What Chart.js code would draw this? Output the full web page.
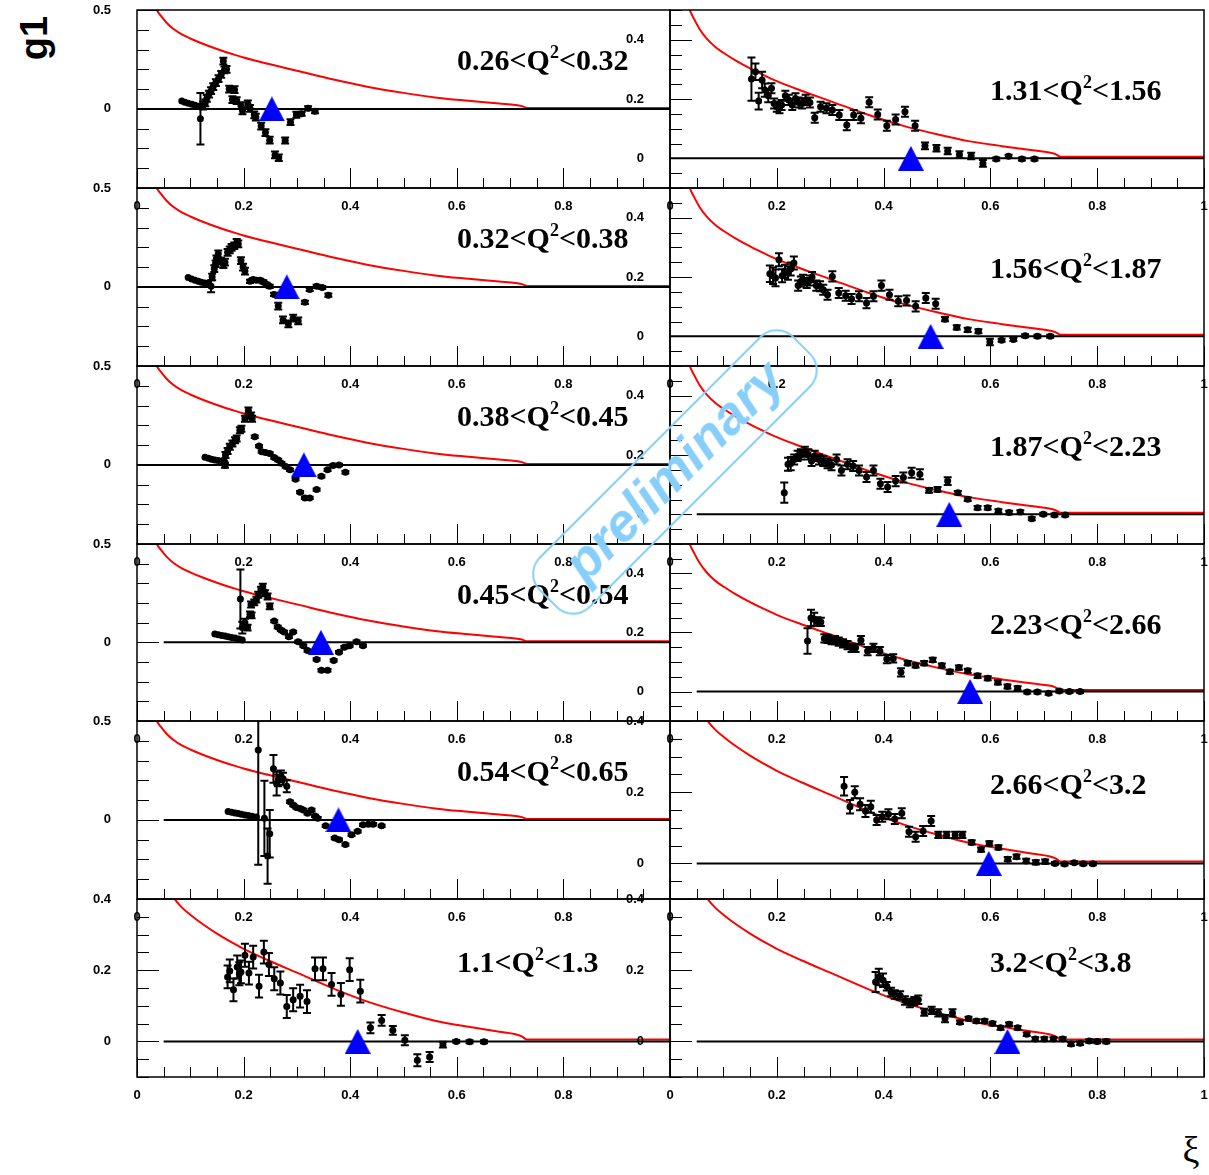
<!DOCTYPE html>
<html>
<head>
<meta charset="utf-8">
<script src="https://cdn.jsdelivr.net/npm/chart.js@4.4.0/dist/chart.umd.min.js"></script>
<style>
  body { margin: 0; background: #fff; width: 1209px; height: 1175px; position: relative; overflow: hidden; }
  canvas.panel { position: absolute; }
  .q2 { position: absolute; font: bold 30px "Liberation Serif", "Times New Roman", serif; line-height: 30px; white-space: nowrap; color: #000; }
  .q2 sup { font-size: 18px; vertical-align: baseline; position: relative; top: -12px; }
  #ytitle { position: absolute; left: 34px; top: 38px; transform: translate(-50%, -50%) rotate(-90deg);
            font: bold 38px "Liberation Sans", Arial, sans-serif; line-height: 38px; }
  #xtitle { position: absolute; left: 1191px; top: 1150px; transform: translate(-50%, -50%);
            font: 38px "Liberation Serif", "DejaVu Serif", serif; line-height: 40px; }
  #prelim { position: absolute; left: 675px; top: 472px; width: 360px; height: 72px; box-sizing: border-box;
            transform: translate(-50%, -50%) rotate(-45deg); border: 2px solid #87cefa; border-radius: 24px;
            color: #87cefa; font: italic bold 53px "Liberation Sans", Arial, sans-serif; line-height: 64px; text-align: center; }
</style>
</head>
<body>
<div id="plots"></div>
<div id="ytitle">g1</div>
<div id="xtitle">ξ</div>
<div id="prelim">preliminary</div>
<script>
// tick labels (the left column's "1" is hidden under the right pads)
const xTickValsLeft = [0, 0.2, 0.4, 0.6, 0.8];
const xTickValsRight = [0, 0.2, 0.4, 0.6, 0.8, 1];
const yTicksWide = [0, 0.5];
const yTicksNarrow = [0, 0.2, 0.4];

// Q2 bins, one per panel (left column top to bottom, then right column)
const q2Low  = ['0.26', '0.32', '0.38', '0.45', '0.54', '1.1', '1.31', '1.56', '1.87', '2.23', '2.66', '3.2'];
const q2High = ['0.32', '0.38', '0.45', '0.54', '0.65', '1.3', '1.56', '1.87', '2.23', '2.66', '3.2', '3.8'];
const triangleXi = [0.253, 0.281, 0.313, 0.345, 0.378, 0.414, 0.451, 0.488, 0.523, 0.562, 0.597, 0.632];
const zeroLineFrom = [0, 0, 0, 0.05, 0.05, 0.05, 0, 0, 0.05, 0.05, 0.05, 0.05];

// red curve (same in every panel); its tail sits just above the zero line
const curveXi = [0.030, 0.037, 0.045, 0.055, 0.068, 0.085, 0.100, 0.121, 0.150, 0.184, 0.200, 0.246, 0.300, 0.371, 0.434, 0.500, 0.559, 0.622, 0.680, 0.710, 0.722, 0.732, 1.000];
const curveG1 = [0.545, 0.500, 0.470, 0.437, 0.405, 0.375, 0.356, 0.332, 0.303, 0.273, 0.260, 0.228, 0.193, 0.147, 0.111, 0.081, 0.058, 0.041, 0.027, 0.020, 0.014, 0.005, 0.005];

// 0.26<Q2<0.32
const xiP1  = [0.084,0.090,0.096,0.103,0.109,0.115,0.119,0.124,0.128,0.131,0.135,0.139,0.143,0.148,0.153,0.158,0.162,0.164,0.168,0.173,0.179,0.183,0.187,0.195,0.198,0.208,0.212,0.220,0.223,0.233,0.241,0.249,0.259,0.266,0.278,0.288,0.299,0.309,0.321,0.334];
const g1P1  = [0.040,0.033,0.028,0.023,0.018,0.013,-0.050,0.017,0.030,0.053,0.075,0.092,0.113,0.133,0.153,0.175,0.242,0.197,0.200,0.100,0.047,0.097,0.042,0.017,-0.010,0.025,0.003,-0.030,-0.042,-0.087,-0.120,-0.158,-0.233,-0.247,-0.160,-0.067,-0.030,-0.025,0.003,-0.012];
const errP1 = [0,0,0,0,0,0,0.13,0.02,0.017,0.017,0.017,0.017,0.017,0.017,0.017,0.017,0.017,0.017,0.017,0.017,0.017,0.017,0.017,0.017,0.017,0.017,0.017,0.017,0.017,0.017,0.017,0.017,0.017,0.017,0.015,0.015,0.015,0.01,0.01,0.01];

// 0.32<Q2<0.38
const xiP2  = [0.096,0.1025,0.109,0.115,0.121,0.1275,0.134,0.139,0.141,0.145,0.1475,0.149,0.1525,0.1575,0.162,0.165,0.17,0.174,0.1775,0.1825,0.187,0.19,0.195,0.199,0.2025,0.212,0.218,0.224,0.231,0.237,0.243,0.249,0.257,0.265,0.274,0.284,0.293,0.3025,0.315,0.324,0.337,0.3475,0.359];
const g1P2  = [0.047,0.040,0.033,0.028,0.023,0.020,0.017,0.003,0.050,0.092,0.117,0.142,0.167,0.130,0.113,0.125,0.175,0.187,0.200,0.208,0.225,0.217,0.133,0.100,0.080,0.028,0.037,0.033,0.033,0.025,0.013,0.003,-0.038,-0.097,-0.167,-0.187,-0.158,-0.172,-0.078,-0.013,0.003,-0.003,-0.042];
const errP2 = [0,0,0,0,0,0,0,0.03,0.017,0.017,0.017,0.017,0.017,0.017,0.017,0.017,0.017,0.017,0.017,0.017,0.017,0.017,0.017,0.017,0.017,0.008,0.008,0.008,0.008,0.008,0.008,0.008,0.008,0.017,0.017,0.017,0.017,0.017,0.008,0.008,0.008,0.008,0.008];

// 0.38<Q2<0.45
const xiP3  = [0.1275,0.134,0.14,0.146,0.1525,0.16,0.165,0.165,0.166,0.17,0.174,0.179,0.184,0.187,0.193,0.196,0.2025,0.209,0.214,0.216,0.221,0.229,0.234,0.241,0.249,0.2575,0.265,0.271,0.279,0.287,0.2975,0.306,0.315,0.324,0.337,0.346,0.3575,0.368,0.379,0.391];
const g1P3  = [0.038,0.033,0.028,0.025,0.022,0.020,0.013,-0.003,0.050,0.070,0.092,0.108,0.125,0.133,0.175,0.183,0.233,0.275,0.250,0.233,0.142,0.095,0.067,0.063,0.058,0.037,0.025,0.008,-0.008,-0.025,-0.072,-0.138,-0.167,-0.167,-0.125,-0.058,-0.025,-0.003,0.000,-0.037];
const errP3 = [0,0,0,0,0,0,0,0.012,0.015,0.015,0.015,0.015,0.015,0.015,0.015,0.015,0.015,0.015,0.015,0.015,0.006,0.006,0.006,0.006,0.006,0.006,0.006,0.006,0.006,0.006,0.006,0.006,0.006,0.006,0.006,0.006,0.006,0.006,0.006,0.006];

// 0.45<Q2<0.54
const xiP4  = [0.146,0.1525,0.159,0.165,0.171,0.1775,0.184,0.191,0.1975,0.194,0.1975,0.2025,0.2075,0.212,0.215,0.214,0.22,0.224,0.2275,0.2325,0.236,0.24,0.245,0.249,0.2575,0.264,0.27,0.276,0.285,0.293,0.3025,0.312,0.32,0.337,0.346,0.3575,0.369,0.379,0.389,0.399,0.412,0.424];
const g1P4  = [0.042,0.038,0.035,0.032,0.028,0.025,0.022,0.017,0.012,0.220,0.075,0.100,0.075,0.142,0.137,0.192,0.203,0.217,0.242,0.267,0.283,0.250,0.233,0.183,0.108,0.078,0.063,0.053,0.028,0.053,0.003,-0.017,-0.042,-0.087,-0.142,-0.142,-0.092,-0.050,-0.025,-0.017,0.003,-0.017];
const errP4 = [0,0,0,0,0,0,0,0,0,0.15,0.03,0.02,0.015,0.015,0.015,0.015,0.015,0.015,0.015,0.015,0.015,0.015,0.015,0.015,0.006,0.006,0.006,0.006,0.006,0.006,0.006,0.006,0.006,0.006,0.006,0.006,0.006,0.006,0.006,0.006,0.006,0.006];

// 0.54<Q2<0.65
const xiP5  = [0.171,0.1775,0.184,0.19,0.196,0.2025,0.209,0.216,0.224,0.2275,0.239,0.245,0.249,0.256,0.262,0.265,0.27,0.274,0.281,0.287,0.293,0.299,0.306,0.312,0.32,0.3275,0.334,0.339,0.354,0.371,0.379,0.391,0.4025,0.414,0.424,0.434,0.443,0.459];
const g1P5  = [0.042,0.038,0.035,0.032,0.028,0.025,0.022,0.018,0.015,0.353,0.008,-0.183,-0.070,0.258,0.183,0.200,0.220,0.208,0.170,0.092,0.075,0.063,0.058,0.050,0.033,0.050,0.020,0.008,-0.030,-0.092,-0.100,-0.125,-0.075,-0.058,-0.025,-0.022,-0.022,-0.030];
const errP5 = [0,0,0,0,0,0,0,0,0,0.58,0.19,0.14,0.12,0.07,0.06,0.03,0.03,0.03,0.03,0.006,0.006,0.006,0.006,0.006,0.006,0.006,0.006,0.006,0.006,0.006,0.006,0.006,0.006,0.006,0.006,0.006,0.006,0.006];

// 1.1<Q2<1.3
const xiP6  = [0.17,0.174,0.181,0.188,0.192,0.195,0.2025,0.21,0.218,0.229,0.238,0.2475,0.2575,0.269,0.281,0.293,0.306,0.319,0.334,0.349,0.365,0.3825,0.399,0.419,0.438,0.459,0.48,0.5025,0.526,0.549,0.574,0.599,0.624,0.651];
const g1P6  = [0.181,0.198,0.145,0.209,0.19,0.195,0.242,0.192,0.237,0.155,0.251,0.216,0.176,0.164,0.098,0.117,0.127,0.112,0.204,0.204,0.16,0.132,0.2015,0.141,0.038,0.059,0.031,0.003,-0.053,-0.044,-0.009,0,-0.001,-0.001];
const errP6 = [0.032,0.032,0.032,0.032,0.032,0.032,0.032,0.032,0.032,0.032,0.032,0.032,0.032,0.032,0.032,0.032,0.032,0.032,0.032,0.032,0.032,0.032,0.032,0.032,0.015,0.015,0.012,0.014,0.017,0.014,0.008,0.004,0.004,0.004];

// 1.31<Q2<1.56
const xiP7  = [0.1525,0.16,0.166,0.1725,0.1775,0.184,0.19,0.195,0.2,0.205,0.209,0.216,0.2225,0.229,0.235,0.241,0.2475,0.254,0.262,0.271,0.282,0.293,0.304,0.317,0.331,0.344,0.3575,0.373,0.389,0.406,0.4225,0.44,0.459,0.4775,0.499,0.52,0.542,0.564,0.586,0.611,0.634,0.659,0.6825];
const g1P7  = [0.267,0.292,0.193,0.264,0.23,0.211,0.236,0.185,0.174,0.169,0.18,0.211,0.197,0.18,0.202,0.188,0.185,0.197,0.188,0.137,0.174,0.169,0.163,0.146,0.112,0.146,0.135,0.189,0.148,0.11,0.131,0.157,0.11,0.042,0.034,0.025,0.013,0.008,-0.017,-0.002,0.007,-0.002,-0.002];
const errP7 = [0.073,0.028,0.028,0.028,0.022,0.022,0.017,0.017,0.017,0.017,0.017,0.017,0.017,0.017,0.017,0.017,0.017,0.017,0.017,0.017,0.017,0.017,0.017,0.017,0.017,0.017,0.017,0.017,0.017,0.017,0.017,0.017,0.017,0.011,0.011,0.011,0.011,0.011,0.011,0.005,0.005,0.005,0.005];

// 1.56<Q2<1.87
const xiP8  = [0.187,0.193,0.1975,0.204,0.21,0.215,0.221,0.226,0.232,0.24,0.245,0.249,0.256,0.262,0.266,0.274,0.281,0.287,0.295,0.304,0.316,0.329,0.34,0.354,0.368,0.381,0.396,0.411,0.4275,0.443,0.46,0.479,0.4975,0.515,0.537,0.5575,0.5775,0.599,0.621,0.643,0.665,0.688,0.712];
const g1P8  = [0.211,0.204,0.197,0.258,0.204,0.219,0.213,0.227,0.247,0.171,0.185,0.191,0.18,0.188,0.2,0.171,0.169,0.157,0.14,0.202,0.146,0.137,0.126,0.135,0.112,0.135,0.171,0.14,0.118,0.121,0.101,0.129,0.11,0.058,0.03,0.022,0.017,-0.019,-0.013,-0.011,0.002,0,0];
const errP8 = [0.028,0.028,0.028,0.022,0.022,0.022,0.022,0.022,0.022,0.017,0.017,0.017,0.017,0.017,0.017,0.017,0.017,0.017,0.017,0.017,0.017,0.017,0.017,0.017,0.017,0.017,0.017,0.017,0.017,0.017,0.017,0.017,0.017,0.007,0.007,0.007,0.007,0.011,0.005,0.005,0.005,0.005,0.005];

// 1.87<Q2<2.23
const xiP9  = [0.214,0.221,0.226,0.2325,0.239,0.245,0.2525,0.259,0.265,0.271,0.279,0.287,0.295,0.3025,0.312,0.321,0.3325,0.343,0.354,0.368,0.381,0.394,0.4075,0.4225,0.437,0.4525,0.468,0.485,0.501,0.52,0.539,0.5575,0.576,0.595,0.615,0.635,0.656,0.6775,0.699,0.72,0.74];
const g1P9  = [0.073,0.169,0.171,0.185,0.197,0.202,0.211,0.202,0.18,0.197,0.185,0.18,0.172,0.166,0.185,0.148,0.169,0.163,0.148,0.126,0.148,0.103,0.092,0.112,0.124,0.14,0.135,0.081,0.084,0.112,0.073,0.051,0.022,0.022,0.011,0.006,0.008,-0.015,0,-0.002,-0.002];
const errP9 = [0.034,0.022,0.022,0.017,0.017,0.017,0.017,0.017,0.017,0.017,0.017,0.017,0.017,0.017,0.017,0.017,0.017,0.017,0.017,0.017,0.017,0.017,0.017,0.017,0.017,0.017,0.017,0.008,0.008,0.013,0.006,0.006,0.006,0.006,0.006,0.006,0.006,0.005,0.005,0.005,0.005];

// 2.23<Q2<2.66
const xiP10  = [0.2575,0.264,0.27,0.276,0.2825,0.289,0.295,0.3025,0.309,0.316,0.324,0.3325,0.34,0.3475,0.3575,0.37,0.381,0.393,0.406,0.418,0.4325,0.445,0.46,0.476,0.492,0.509,0.524,0.541,0.5575,0.576,0.595,0.614,0.632,0.651,0.669,0.688,0.709,0.729,0.748,0.768];
const g1P10  = [0.171,0.249,0.245,0.238,0.236,0.18,0.178,0.174,0.174,0.169,0.163,0.157,0.148,0.148,0.174,0.137,0.148,0.137,0.11,0.112,0.065,0.096,0.088,0.096,0.107,0.088,0.067,0.081,0.07,0.053,0.045,0.031,0.017,0.011,-0.002,-0.002,-0.006,0.002,0,0];
const errP10 = [0.043,0.028,0.022,0.014,0.014,0.014,0.014,0.014,0.014,0.014,0.014,0.014,0.014,0.014,0.014,0.014,0.014,0.014,0.014,0.014,0.014,0.007,0.007,0.007,0.007,0.007,0.007,0.007,0.007,0.007,0.007,0.007,0.007,0.007,0.005,0.005,0.005,0.005,0.005,0.005];

// 2.66<Q2<3.2
const xiP11  = [0.326,0.337,0.346,0.356,0.366,0.376,0.387,0.3975,0.409,0.421,0.434,0.4475,0.46,0.474,0.489,0.5025,0.518,0.534,0.5475,0.565,0.5825,0.598,0.615,0.6325,0.649,0.667,0.685,0.7025,0.721,0.739,0.757,0.774,0.792];
const g1P11  = [0.217,0.159,0.2,0.166,0.147,0.159,0.122,0.131,0.138,0.125,0.141,0.089,0.075,0.091,0.119,0.08,0.08,0.08,0.08,0.059,0.039,0.056,0.045,0.012,0.019,0.007,0.003,0.005,0,-0.002,0.002,-0.001,-0.001];
const errP11 = [0.026,0.019,0.017,0.017,0.017,0.017,0.014,0.014,0.014,0.014,0.014,0.014,0.014,0.014,0.014,0.009,0.009,0.009,0.009,0.006,0.006,0.006,0.006,0.006,0.006,0.006,0.006,0.006,0.004,0.004,0.004,0.004,0.004];

// 3.2<Q2<3.8
const xiP12  = [0.385,0.391,0.399,0.406,0.414,0.421,0.431,0.44,0.449,0.4575,0.465,0.476,0.49,0.5025,0.515,0.529,0.543,0.559,0.574,0.589,0.604,0.619,0.635,0.651,0.668,0.684,0.701,0.718,0.7355,0.751,0.768,0.785,0.8,0.817];
const g1P12  = [0.167,0.181,0.172,0.155,0.139,0.132,0.129,0.115,0.108,0.113,0.117,0.082,0.087,0.08,0.064,0.08,0.054,0.064,0.057,0.057,0.05,0.038,0.048,0.038,0.02,0.007,0.007,0.007,0.007,-0.007,-0.005,0.001,0,0];
const errP12 = [0.028,0.023,0.019,0.012,0.012,0.012,0.012,0.012,0.012,0.012,0.012,0.01,0.01,0.01,0.01,0.01,0.005,0.005,0.005,0.005,0.005,0.005,0.005,0.005,0.005,0.005,0.005,0.005,0.005,0.005,0.005,0.005,0.005,0.005];

const xiSets  = [xiP1, xiP2, xiP3, xiP4, xiP5, xiP6, xiP7, xiP8, xiP9, xiP10, xiP11, xiP12];
const g1Sets  = [g1P1, g1P2, g1P3, g1P4, g1P5, g1P6, g1P7, g1P8, g1P9, g1P10, g1P11, g1P12];
const errSets = [errP1, errP2, errP3, errP4, errP5, errP6, errP7, errP8, errP9, errP10, errP11, errP12];

// ---- layout ----
const colLeft = [137, 670], colWidth = [533, 534];
const rowTop = [10, 188, 366, 544, 721, 899], rowHeight = [178, 178, 178, 177, 178, 178];
const MARGIN_L = 50, MARGIN_R = 10, MARGIN_T = 12, MARGIN_B = 28;
const tickFont = { family: '"Liberation Sans", Arial, sans-serif', weight: 'bold', size: 13 };

// blue triangle marker
const triImg = document.createElement('canvas');
triImg.width = 26; triImg.height = 25;
const tctx = triImg.getContext('2d');
tctx.fillStyle = '#0000ff';
tctx.beginPath(); tctx.moveTo(13, 0); tctx.lineTo(26, 25); tctx.lineTo(0, 25); tctx.closePath(); tctx.fill();

// frame + inward tick marks like the ROOT pads
const framePlugin = {
  id: 'frame',
  afterDraw(chart, args, opts) {
    const { ctx, chartArea: a, scales: { x, y } } = chart;
    ctx.save();
    ctx.strokeStyle = '#000';
    ctx.lineWidth = 1;
    ctx.beginPath();
    for (let i = 0; i <= 20; i++) {
      const px = Math.round(x.getPixelForValue(i * 0.05)) + 0.5;
      const len = i % 4 === 0 ? 20 : 10;
      ctx.moveTo(px, a.bottom); ctx.lineTo(px, a.bottom - len);
    }
    const n = Math.round((opts.yMax - opts.yMin) / opts.yMinor);
    for (let k = 0; k <= n; k++) {
      const v = opts.yMin + k * opts.yMinor;
      const r = v / opts.yMajor;
      const major = Math.abs(r - Math.round(r)) < 1e-6;
      const py = Math.round(y.getPixelForValue(v)) + 0.5;
      ctx.moveTo(a.left, py); ctx.lineTo(a.left + (major ? 22 : 12), py);
    }
    ctx.stroke();
    ctx.lineWidth = 1.5;
    ctx.strokeRect(a.left, a.top, a.right - a.left, a.bottom - a.top);
    ctx.restore();
  }
};

// vertical error bars with small caps
const errorBarPlugin = {
  id: 'errorBars',
  afterDatasetDraw(chart, args) {
    const ds = chart.data.datasets[args.index];
    if (!ds.errors) return;
    const { ctx, chartArea: a } = chart;
    const ys = chart.scales.y;
    ctx.save();
    ctx.beginPath(); ctx.rect(a.left, a.top, a.right - a.left, a.bottom - a.top); ctx.clip();
    ctx.strokeStyle = '#000';
    ctx.lineWidth = 2;
    ds.data.forEach((pt, i) => {
      const e = ds.errors[i];
      if (!e) return;
      const px = args.meta.data[i].x;
      const y1 = ys.getPixelForValue(pt.y + e), y2 = ys.getPixelForValue(pt.y - e);
      ctx.beginPath();
      ctx.moveTo(px, y1); ctx.lineTo(px, y2);
      ctx.moveTo(px - 4, y1); ctx.lineTo(px + 4, y1);
      ctx.moveTo(px - 4, y2); ctx.lineTo(px + 4, y2);
      ctx.stroke();
    });
    ctx.restore();
  }
};

// keep the plot frame exactly where the pad is: drop the label overhang padding
function fixX(s) { s.height = MARGIN_B; s.paddingLeft = 0; s.paddingRight = 0; s.paddingTop = 0; s.paddingBottom = 0; }
function fixY(s) { s.width = MARGIN_L; s.paddingLeft = 0; s.paddingRight = 0; s.paddingTop = 0; s.paddingBottom = 0; }

const plots = document.getElementById('plots');

for (let i = 0; i < 12; i++) {
  const col = i < 6 ? 0 : 1, row = i % 6;
  const wide = col === 0 && row < 5;             // -0.4..0.5 panels
  const tall = col === 1 && row < 4;             // -0.1..0.5 panels
  const yMin = wide ? -0.4 : -0.1;
  const yMax = wide || tall ? 0.5 : 0.4;
  const yTickVals = wide ? yTicksWide : yTicksNarrow;
  const xTickVals = col === 0 ? xTickValsLeft : xTickValsRight;

  const w = colWidth[col] + MARGIN_L + MARGIN_R;
  const h = rowHeight[row] + MARGIN_T + MARGIN_B;
  const cv = document.createElement('canvas');
  cv.className = 'panel';
  cv.width = w; cv.height = h;
  cv.style.left = (colLeft[col] - MARGIN_L) + 'px';
  cv.style.top = (rowTop[row] - MARGIN_T) + 'px';
  cv.style.width = w + 'px'; cv.style.height = h + 'px';
  plots.appendChild(cv);

  const pts = xiSets[i].map((v, k) => ({ x: v, y: g1Sets[i][k] }));
  const curve = curveXi.map((v, k) => ({ x: v, y: curveG1[k] }));

  // first dataset is drawn on top
  new Chart(cv, {
    type: 'scatter',
    data: {
      datasets: [
        { data: [{ x: triangleXi[i], y: 0 }], pointStyle: triImg, pointRadius: 13 },
        { data: pts, errors: errSets[i], pointStyle: 'circle', pointRadius: 3.5,
          backgroundColor: '#000', borderWidth: 0 },
        { data: [{ x: zeroLineFrom[i], y: 0 }, { x: 1, y: 0 }], showLine: true, pointRadius: 0,
          borderColor: '#000', borderWidth: 2 },
        { data: curve, showLine: true, pointRadius: 0, borderColor: '#ff0000', borderWidth: 2,
          cubicInterpolationMode: 'monotone' }
      ]
    },
    options: {
      responsive: false, animation: false, events: [],
      layout: { autoPadding: false, padding: { top: MARGIN_T, right: MARGIN_R, left: 0, bottom: 0 } },
      plugins: {
        legend: { display: false }, tooltip: { enabled: false },
        frame: { yMin, yMax, yMinor: wide ? 0.1 : 0.05, yMajor: wide ? 0.5 : 0.2 }
      },
      scales: {
        x: {
          type: 'linear', min: 0, max: 1,
          grid: { display: false, drawTicks: false }, border: { display: false },
          afterBuildTicks: s => { s.ticks = xTickVals.map(v => ({ value: v })); },
          afterFit: fixX,
          ticks: { padding: 11, autoSkip: false, maxRotation: 0, color: '#000', font: tickFont,
                   callback: v => String(v) }
        },
        y: {
          type: 'linear', min: yMin, max: yMax,
          grid: { display: false, drawTicks: false }, border: { display: false },
          afterBuildTicks: s => { s.ticks = yTickVals.map(v => ({ value: v })); },
          afterFit: fixY,
          ticks: { padding: 26, autoSkip: false, color: '#000', font: tickFont,
                   callback: v => String(v) }
        }
      }
    },
    plugins: [framePlugin, errorBarPlugin]
  });

  // Q2 bin label
  const lab = document.createElement('div');
  lab.className = 'q2';
  const off = (col === 0 && row < 5) ? 50 : (col === 1 && row < 4 ? 80 : 63);
  lab.style.left = (colLeft[col] + 320) + 'px';
  lab.style.top = (rowTop[row] + off - 15) + 'px';
  lab.innerHTML = q2Low[i] + '&lt;Q<sup>2</sup>&lt;' + q2High[i];
  plots.appendChild(lab);
}
</script>
</body>
</html>
